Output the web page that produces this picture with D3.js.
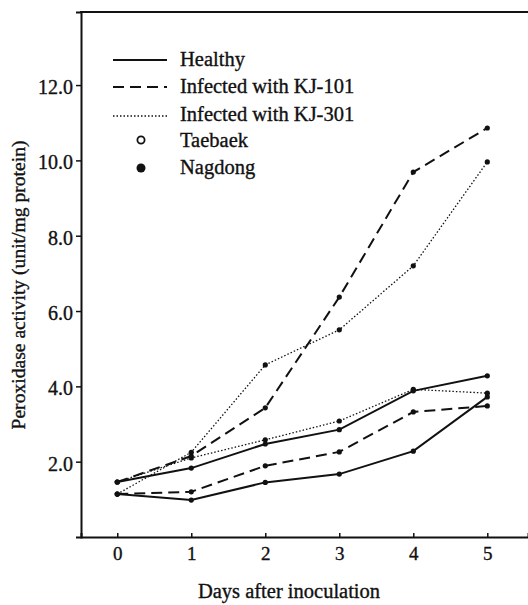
<!DOCTYPE html>
<html><head><meta charset="utf-8">
<script src="https://cdn.jsdelivr.net/npm/d3@7"></script>
<style>body{margin:0;background:#fff}svg{display:block}text{font-family:"Liberation Serif","Times New Roman",serif;fill:#111;stroke:#111;stroke-width:0.35px}</style>
</head><body>
<script>
const days = [0, 1, 2, 3, 4, 5];
const yTicks = [2, 4, 6, 8, 10, 12];
const healthyA = [1.46, 1.83, 2.47, 2.85, 3.88, 4.28];
const healthyB = [1.14, 0.98, 1.45, 1.67, 2.28, 3.72];
const kj101A = [1.46, 2.15, 3.43, 6.37, 9.69, 10.86];
const kj101B = [1.14, 1.2, 1.89, 2.26, 3.32, 3.48];
const kj301A = [1.14, 2.25, 4.57, 5.5, 7.2, 9.96];
const kj301B = [1.46, 2.1, 2.58, 3.08, 3.92, 3.82];
const seriesNames = ["Healthy", "Infected with KJ-101", "Infected with KJ-301", "Taebaek", "Nagdong"];

const W = 528, H = 605;
const svg = d3.select("body").append("svg").attr("width", W).attr("height", H);
const x = d3.scaleLinear().domain([-0.49, 5.55]).range([81, 528]);
const y = d3.scaleLinear().domain([0, 13.94]).range([537, 12]);

const styles = {
  solid: {w: 2, dash: null},
  dashed: {w: 2, dash: "11,6"},
  dotted: {w: 1.3, dash: "1.5,2"}
};
const series = [
  {v: healthyA, s: "solid"}, {v: healthyB, s: "solid"},
  {v: kj101A, s: "dashed"}, {v: kj101B, s: "dashed"},
  {v: kj301A, s: "dotted"}, {v: kj301B, s: "dotted"}
];
const line = d3.line().x((d, i) => x(days[i])).y(d => y(d));
series.forEach(se => {
  const st = styles[se.s];
  svg.append("path").attr("d", line(se.v)).attr("fill", "none")
    .attr("stroke", "#111").attr("stroke-width", st.w)
    .attr("stroke-dasharray", st.dash);
  svg.selectAll(null).data(se.v).enter().append("circle")
    .attr("cx", (d, i) => x(days[i])).attr("cy", d => y(d)).attr("r", 2.6).attr("fill", "#111");
});

// axes
const gx = svg.append("g").attr("transform", "translate(0,537)")
  .call(d3.axisBottom(x).tickValues(days).tickFormat(d3.format("d")).tickSize(-4).tickPadding(10));
const gy = svg.append("g").attr("transform", "translate(81,0)")
  .call(d3.axisLeft(y).tickValues(yTicks).tickFormat(d3.format(".1f")).tickSize(5).tickPadding(3));
[gx, gy].forEach(g => {
  g.select(".domain").attr("stroke", "#111").attr("stroke-width", 2);
  g.selectAll(".tick line").attr("stroke", "#111").attr("stroke-width", 1.5);
  g.selectAll("text").style("font-family", '"Liberation Serif",serif').attr("fill", "#111")
    .attr("stroke", "#111").attr("stroke-width", 0.5);
});
gx.selectAll("text").style("font-size", "19px");
gy.selectAll("text").style("font-size", "20px").attr("dy", "0.42em");
// top frame
svg.append("line").attr("x1", 80).attr("x2", 528).attr("y1", y(13.94)).attr("y2", y(13.94))
  .attr("stroke", "#111").attr("stroke-width", 2);

// titles
svg.append("text").attr("x", 289).attr("y", 598).attr("text-anchor", "middle")
  .style("font-size", "20.5px").text("Days after inoculation");
svg.append("text").attr("transform", "translate(25,285) rotate(-90)").attr("text-anchor", "middle")
  .style("font-size", "19.6px").text("Peroxidase activity (unit/mg protein)");

// legend
const legLineY = [60, 87, 116, 140, 168];
const legTextY = [66, 93, 121, 147, 174];
const leg = svg.append("g");
["solid", "dashed", "dotted"].forEach((s, i) => {
  const st = styles[s];
  leg.append("line").attr("x1", 113).attr("x2", 167).attr("y1", legLineY[i]).attr("y2", legLineY[i])
    .attr("stroke", "#111").attr("stroke-width", st.w).attr("stroke-dasharray", st.dash);
});
leg.append("circle").attr("cx", 141).attr("cy", legLineY[3]).attr("r", 3.6).attr("fill", "#fff").attr("stroke", "#111").attr("stroke-width", 1.8);
leg.append("circle").attr("cx", 141).attr("cy", legLineY[4]).attr("r", 4.5).attr("fill", "#111");
seriesNames.forEach((n, i) => {
  leg.append("text").attr("x", 180).attr("y", legTextY[i])
    .style("font-size", "20.5px").text(n);
});
</script>
</body></html>
